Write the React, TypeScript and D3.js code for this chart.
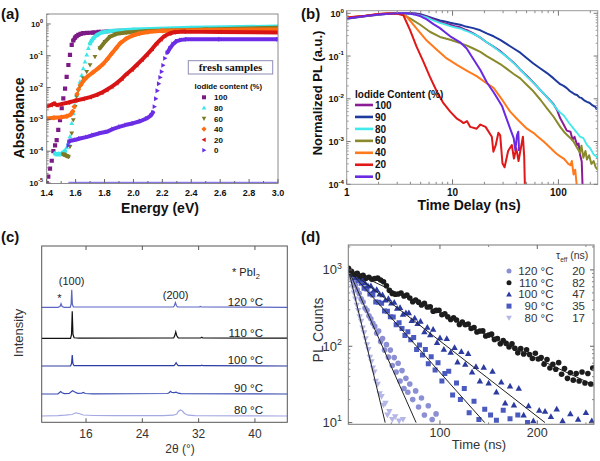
import React from "react";
import * as d3 from "d3";

const FONT = "'Liberation Sans', Arial, Helvetica, sans-serif";

// ---------------- (a) absorbance: [energy (eV), log10(absorbance)] ----------------
const absLabels = ["100", "80", "60", "40", "20", "0"];
const absColors = ["#7d1b86", "#3ee6e8", "#7c7a24", "#ff6c12", "#d81414", "#6b2de6"];
const absMarkers = ["square", "triUp", "triDown", "diamond", "triLeft", "triRight"];
const abs100 = [
  [1.400, -5.0], [1.411, -4.8], [1.423, -4.55], [1.435, -4.3], [1.446, -4.0], [1.458, -3.82],
  [1.469, -3.65], [1.480, -3.33], [1.492, -3.02], [1.504, -2.65], [1.515, -2.34], [1.527, -2.03],
  [1.538, -1.66], [1.550, -1.29], [1.561, -0.97], [1.573, -0.66], [1.584, -0.52], [1.596, -0.43],
  [1.607, -0.38], [1.619, -0.34], [1.635, -0.31], [1.653, -0.29], [1.68, -0.28], [1.72, -0.27],
  [1.76, -0.25], [1.85, -0.22], [2.0, -0.2], [2.5, -0.17], [3.0, -0.15],
];
const abs80 = [
  [1.457, -4.07], [1.470, -4.1], [1.482, -4.08], [1.493, -4.1], [1.504, -4.07], [1.515, -4.03],
  [1.527, -3.99], [1.538, -3.88], [1.550, -3.75], [1.561, -3.54], [1.573, -3.12], [1.584, -2.81],
  [1.596, -2.55], [1.607, -2.23], [1.619, -2.03], [1.630, -1.82], [1.642, -1.61], [1.653, -1.4],
  [1.665, -1.19], [1.677, -0.97], [1.688, -0.76], [1.700, -0.61], [1.711, -0.52], [1.722, -0.45],
  [1.745, -0.35], [1.78, -0.27], [1.838, -0.22], [2.0, -0.17], [2.4, -0.12], [3.0, -0.08],
];
const abs60 = [
  [1.515, -4.1], [1.527, -4.12], [1.538, -4.15], [1.550, -4.17], [1.561, -3.86], [1.573, -3.44],
  [1.584, -3.02], [1.596, -2.6], [1.607, -2.28], [1.619, -2.1], [1.630, -1.97], [1.653, -1.71],
  [1.677, -1.5], [1.700, -1.29], [1.734, -1.03], [1.768, -0.76], [1.803, -0.56], [1.838, -0.4],
  [1.884, -0.31], [1.953, -0.27], [2.1, -0.22], [2.5, -0.17], [3.0, -0.12],
];
const abs40 = [
  [1.40, -2.97], [1.45, -2.95], [1.50, -2.93], [1.54, -2.9], [1.565, -2.85], [1.58, -2.75],
  [1.59, -2.6], [1.60, -2.4], [1.61, -2.2], [1.62, -2.05], [1.635, -1.92], [1.655, -1.78],
  [1.68, -1.66], [1.72, -1.52], [1.76, -1.38], [1.79, -1.26], [1.82, -1.1], [1.85, -0.93],
  [1.88, -0.76], [1.91, -0.6], [1.95, -0.46], [1.99, -0.37], [2.04, -0.3], [2.1, -0.25],
  [2.2, -0.21], [2.5, -0.19], [3.0, -0.17],
];
const abs20 = [
  [1.40, -2.58], [1.43, -2.55], [1.45, -2.5], [1.47, -2.55], [1.50, -2.52], [1.55, -2.47],
  [1.60, -2.41], [1.65, -2.36], [1.70, -2.3], [1.745, -2.23], [1.78, -2.16], [1.815, -2.07],
  [1.85, -1.97], [1.884, -1.86], [1.92, -1.72], [1.953, -1.57], [1.99, -1.43], [2.022, -1.29],
  [2.06, -1.12], [2.092, -0.97], [2.13, -0.78], [2.161, -0.61], [2.19, -0.48], [2.215, -0.38],
  [2.25, -0.3], [2.28, -0.26], [2.35, -0.24], [2.6, -0.25], [3.0, -0.27],
];
const abs0 = [
  [1.55, -3.82], [1.556, -3.7], [1.565, -3.67], [1.6, -3.64], [1.63, -3.6], [1.68, -3.55],
  [1.722, -3.49], [1.77, -3.43], [1.815, -3.39], [1.86, -3.3], [1.907, -3.23], [1.95, -3.17],
  [2.0, -3.12], [2.05, -3.05], [2.092, -2.97], [2.12, -2.88], [2.135, -2.78], [2.145, -2.6],
  [2.155, -2.35], [2.165, -2.1], [2.175, -1.88], [2.185, -1.68], [2.195, -1.5], [2.205, -1.3],
  [2.218, -1.08], [2.235, -0.9], [2.253, -0.76], [2.275, -0.63], [2.299, -0.54], [2.33, -0.5],
  [2.368, -0.48], [2.6, -0.48], [3.0, -0.48],
];
const abs0ClippedRange = [1.55, 3.0];
const absSeries = [abs100, abs80, abs60, abs40, abs20, abs0];
const energyTicks = [1.4, 1.6, 1.8, 2.0, 2.2, 2.4, 2.6, 2.8, 3.0];
const energyTickLabels = ["1.4", "1.6", "1.8", "2.0", "2.2", "2.4", "2.6", "2.8", "3.0"];
const energyMinorTicks = [1.5, 1.7, 1.9, 2.1, 2.3, 2.5, 2.7, 2.9];
const absDecades = [0, -1, -2, -3, -4, -5];

// ---------------- (b) TRPL: [time (ns), normalized PL] ----------------
const plLabels = ["100", "90", "80", "60", "40", "20", "0"];
const plColors = ["#8a1d96", "#1f3a9e", "#3fe9ec", "#8a8a2c", "#ff7a1c", "#e01818", "#6a2ae2"];
const pl100 = [
  [1, 0.78], [1.5, 0.87], [2, 0.95], [2.5, 0.99], [3, 1.0], [3.5, 1.0], [4, 0.99], [4.5, 0.97],
  [5, 0.92], [5.7, 0.83], [6.6, 0.72], [7.6, 0.63], [8.5, 0.58], [9.5, 0.54], [10.5, 0.5],
  [11.8, 0.47], [13, 0.42], [14.1, 0.39], [15.7, 0.34], [17, 0.3], [18.3, 0.27], [21, 0.21],
  [24, 0.17], [28.2, 0.13], [32, 0.1], [37.8, 0.07], [43, 0.05], [50.4, 0.034], [58, 0.024],
  [67.6, 0.016], [78, 0.011], [90, 0.0075], [97, 0.0055], [104, 0.0035], [112, 0.0025],
  [120, 0.0018], [130, 0.0017], [136, 0.0011], [142, 0.0013], [150, 0.00083], [155, 0.0009],
  [160, 0.0005], [166, 0.00034], [170, 0.00006],
];
const pl90 = [
  [1, 0.75], [1.5, 0.85], [2, 0.93], [2.5, 0.98], [3, 1.0], [4, 1.0], [4.5, 0.99], [5, 0.95],
  [5.7, 0.86], [6.6, 0.76], [7.6, 0.68], [8.5, 0.64], [9.5, 0.6], [10.5, 0.57], [11.8, 0.54],
  [13, 0.5], [15.7, 0.45], [18.3, 0.4], [21, 0.34], [24.4, 0.29], [28.2, 0.24], [32.6, 0.19],
  [37.8, 0.15], [43.6, 0.12], [50.4, 0.089], [58, 0.067], [67.6, 0.051], [78, 0.04], [90, 0.03],
  [104, 0.022], [112, 0.02], [120, 0.0178], [128, 0.0152], [135, 0.014], [142, 0.0128],
  [150, 0.0123], [158, 0.0108], [165, 0.0105], [175, 0.0092], [186, 0.0085], [193, 0.0082],
  [200, 0.0078], [208, 0.0071], [215, 0.0068], [222, 0.0066], [228, 0.0058], [235, 0.006],
];
const pl80 = [
  [1, 0.78], [1.5, 0.87], [2, 0.95], [2.5, 0.99], [3, 1.0], [3.5, 0.99], [4, 0.97], [4.5, 0.93],
  [5, 0.88], [5.7, 0.8], [6.6, 0.68], [7.6, 0.6], [8.5, 0.55], [9.5, 0.5], [10.5, 0.47],
  [11.8, 0.44], [13, 0.4], [14.1, 0.37], [15.7, 0.33], [17, 0.3], [18.3, 0.27], [21, 0.21],
  [24, 0.17], [28.2, 0.125], [32, 0.1], [37.8, 0.068], [43, 0.05], [50.4, 0.033], [58, 0.024],
  [67.6, 0.016], [78, 0.011], [90, 0.0072], [100, 0.0052], [112, 0.0041], [125, 0.0028],
  [139, 0.002], [150, 0.0016], [160, 0.0013], [172, 0.0012], [185, 0.00085], [200, 0.00069],
  [215, 0.0005], [225, 0.00046], [235, 0.00041],
];
const pl60 = [
  [1, 0.78], [1.5, 0.87], [2, 0.95], [2.5, 0.99], [3, 1.0], [3.3, 0.98], [3.96, 0.76],
  [4.95, 0.54], [6.1, 0.37], [7.6, 0.28], [9.5, 0.24], [11.8, 0.2], [13.7, 0.175],
  [15.7, 0.15], [18.3, 0.125], [21, 0.1], [24.4, 0.08], [28.2, 0.065], [32.6, 0.05],
  [37.8, 0.038], [43.6, 0.03], [50.4, 0.021], [58, 0.015], [67.6, 0.0095], [78, 0.006],
  [90, 0.0038], [104, 0.0022], [115, 0.0016], [130, 0.0012], [139, 0.001], [150, 0.00072],
  [160, 0.00055], [165, 0.0008], [172, 0.00042], [180, 0.0006], [186, 0.00038], [195, 0.00048],
  [205, 0.0003], [215, 0.00035], [225, 0.00025], [235, 0.00022],
];
const pl40 = [
  [1, 0.8], [1.5, 0.88], [2, 0.96], [2.5, 1.0], [3.2, 0.97], [3.7, 0.83], [4.6, 0.43],
  [5.7, 0.23], [7.1, 0.14], [8.8, 0.088], [11, 0.062], [13.7, 0.045], [16.9, 0.034],
  [20, 0.025], [24.4, 0.018], [29, 0.01], [35, 0.005], [42, 0.0031], [50.4, 0.002],
  [58, 0.0016], [64, 0.0013], [72.5, 0.001], [80, 0.0008], [90, 0.0006], [96, 0.00052],
  [104, 0.00045], [112, 0.0004], [118, 0.00035], [124, 0.0003], [130, 0.00028], [134, 0.00035],
  [139, 0.00017], [144, 0.00022], [150, 0.00008],
];
const pl20 = [
  [1, 0.8], [1.5, 0.88], [2, 0.96], [2.5, 0.99], [3, 0.97], [3.43, 0.9], [3.96, 0.41],
  [4.57, 0.166], [5.3, 0.074], [6.1, 0.033], [7.1, 0.0148], [8.2, 0.0079], [9.5, 0.005],
  [10.9, 0.0035], [12, 0.003], [12.7, 0.0027], [13.7, 0.003], [14.7, 0.0022], [16.9, 0.002],
  [18.3, 0.0025], [20.5, 0.0022], [23.5, 0.0013], [24.3, 0.00058], [25.5, 0.0008],
  [27.1, 0.0016], [28.2, 0.0014], [29.6, 0.00031], [31, 0.00025], [33.5, 0.0006],
  [36.3, 0.00083], [38, 0.0004], [40, 0.0007], [42, 0.00035], [46.2, 0.0013], [47.5, 0.00045],
  [48.5, 0.00005],
];
const pl0 = [
  [1, 0.76], [1.5, 0.86], [2, 0.94], [2.5, 0.98], [3, 1.0], [3.5, 1.0], [4, 0.98], [4.5, 0.92],
  [5, 0.85], [5.7, 0.72], [6.6, 0.56], [7.6, 0.45], [8.5, 0.36], [9.5, 0.29], [10.5, 0.25],
  [11.8, 0.21], [13.6, 0.15], [15.7, 0.085], [18.3, 0.047], [21.1, 0.024], [24.5, 0.014],
  [27, 0.0095], [29.3, 0.0068], [31.4, 0.0042], [33, 0.003], [35, 0.002], [37.8, 0.0012],
  [39.2, 0.00063], [40.6, 0.0014], [41.8, 0.0017], [42.5, 0.0006],
];
const plSeries = [pl100, pl90, pl80, pl60, pl40, pl20, pl0];
const plDrawOrder = [1, 0, 2, 3, 4, 5, 6];
const timeTicksB = [1, 10, 100];
const timeTickLabelsB = ["1", "10", "100"];
const plDecades = [0, -1, -2, -3, -4];

// ---------------- (c) XRD: [2θ (deg), intensity (a.u.)] ----------------
const xrdTemps = ["120 °C", "110 °C", "100 °C", "90 °C", "80 °C"];
const xrdOffsets = [115, 84, 56.3, 28.3, 6.3];
const xrdColors = ["#5b66c4", "#111111", "#2c3da3", "#3b4db3", "#a4a9e2"];
const xrd120 = [
  [9.7, 0], [12.0, 0], [12.3, 0.8], [12.45, 3.6], [12.6, 0.8], [12.9, 0], [13.75, 0],
  [13.88, 3], [13.97, 17.5], [14.06, 3], [14.2, 0.3], [28.4, 0.3], [28.55, 1.5], [28.7, 4.7],
  [28.85, 1.5], [29.0, 0.3], [32.1, 0.3], [32.25, 0.9], [32.4, 0.3], [44.6, 0],
];
const xrd110 = [
  [9.7, 0], [13.8, 0], [13.94, 4], [14.04, 27], [14.14, 4], [14.3, 0.5], [15.0, 0.2],
  [28.45, 0.4], [28.6, 2.5], [28.75, 6.5], [28.9, 2.5], [29.1, 0.4], [32.3, 0.3], [32.45, 1],
  [32.6, 0.3], [44.6, 0.2],
];
const xrd100 = [
  [9.7, 0], [13.8, 0], [13.94, 2.5], [14.04, 11], [14.14, 2.5], [14.3, 0.3], [28.5, 0.3],
  [28.65, 1.5], [28.8, 3.3], [28.95, 1.5], [29.1, 0.3], [32.3, 0.3], [32.45, 0.8], [32.6, 0.3],
  [44.6, 0],
];
const xrd90 = [
  [9.7, 0], [12.0, 0], [12.2, 1.2], [12.4, 2.4], [12.6, 1.3], [12.9, 0.4], [13.6, 0.6],
  [13.9, 2.2], [14.1, 3.2], [14.4, 2], [14.8, 0.7], [15.4, 0.9], [15.6, 1.5], [15.9, 0.5],
  [17, 0.2], [27.6, 0.5], [27.85, 1.5], [28.0, 2.7], [28.2, 1.5], [28.5, 1.4], [28.8, 1.8],
  [29.1, 0.8], [29.5, 0.3], [44.6, 0],
];
const xrd80 = [
  [9.7, 0], [12, 0.3], [13, 0.8], [14, 1.5], [14.55, 3.2], [15.0, 2.5], [15.6, 1], [17, 0.5],
  [20, 0.3], [27, 0.3], [28.4, 0.8], [28.9, 2], [29.1, 4.5], [29.4, 6], [29.7, 5], [30.0, 2.5],
  [30.5, 0.8], [31.5, 0.3], [44.6, 0],
];
const xrdSeries = [xrd120, xrd110, xrd100, xrd90, xrd80];
const twoThetaTicks = [16, 24, 32, 40];

// ---------------- (d) PL decay: [time (ns), PL counts] ----------------
const trplTemps = ["120 °C", "110 °C", "100 °C", "90 °C", "80 °C"];
const trplTau = ["20", "82", "47", "35", "17"];
const trplColors = ["#8b8fd3", "#1c1c1c", "#2b3ba0", "#4a5abf", "#b3b6e6"];
const trplMarkers = ["circle", "circle", "triUp", "square", "triDown"];
const trpl120 = [
  [7, 933], [9, 832], [11, 708], [13, 631], [15, 550], [17, 490], [19, 417], [21, 380], [23, 316],
  [25, 295], [27, 251], [29, 229], [31, 200], [33, 182], [35, 148], [37, 158], [39, 115], [41, 126],
  [43, 89], [45, 105], [47, 72], [49, 89], [51, 56], [53, 71], [55, 46], [57, 60], [59, 35],
  [61, 48], [63, 28], [65, 38], [67, 25], [69, 32], [72, 20], [75, 26], [78, 16], [81, 21],
  [84, 12.6], [88, 16.6], [92, 11], [96, 13],
];
const trpl110 = [
  [6, 1047], [9, 960], [12, 879], [15, 904], [18, 828], [21, 851], [24, 780], [27, 802], [30, 752],
  [33, 770], [36, 780], [39, 735], [42, 700], [45, 620], [48, 540], [51, 490], [54, 481], [57, 483],
  [60, 497], [63, 455], [66, 468], [69, 429], [72, 384], [75, 404], [78, 378], [81, 347], [84, 365],
  [87, 327], [90, 328], [93, 287], [96, 295], [99, 296], [102, 259], [105, 267], [108, 244],
  [111, 224], [114, 236], [117, 221], [120, 193], [123, 208], [126, 191], [129, 196], [132, 171],
  [135, 176], [138, 154], [141, 158], [144, 159], [147, 136], [150, 140], [153, 144], [156, 123],
  [159, 126], [162, 108], [165, 119], [168, 109], [171, 98], [174, 108], [177, 94], [180, 82],
  [183, 93], [186, 79], [189, 90], [192, 78], [195, 69], [198, 81], [201, 68], [204, 71],
  [207, 58], [210, 67], [213, 52], [216, 58], [219, 50], [222, 61], [225, 43], [228, 51],
  [231, 38], [234, 45], [237, 36], [240, 44], [243, 35], [246, 46], [249, 33], [252, 44],
  [255, 32], [257, 52],
];
const trpl100 = [
  [8, 955], [11, 891], [14, 794], [17, 794], [20, 759], [23, 676], [26, 617], [29, 617], [32, 541],
  [35, 553], [38, 482], [41, 471], [44, 402], [47, 421], [50, 366], [53, 376], [56, 313], [59, 320],
  [62, 261], [65, 273], [68, 273], [71, 217], [74, 233], [77, 198], [80, 212], [84, 154], [87, 177],
  [90, 141], [93, 166], [97, 112], [100, 129], [104, 91], [107, 126], [111, 83], [115, 96],
  [118, 62], [122, 85], [126, 58], [129, 80], [133, 46], [137, 54], [141, 35], [145, 53], [150, 33],
  [154, 47], [158, 25], [163, 34], [167, 18], [172, 30], [176, 17], [181, 28], [186, 12.5],
  [191, 16.6], [196, 10.5], [202, 14.5], [208, 14], [214, 12], [220, 15], [226, 10.5], [234, 13],
  [242, 11], [250, 13.5], [256, 10.5],
];
const trpl90 = [
  [8, 933], [10, 871], [13, 794], [16, 719], [19, 667], [22, 577], [25, 561], [28, 485], [31, 471],
  [34, 380], [37, 378], [40, 366], [43, 289], [46, 288], [49, 243], [52, 242], [55, 191], [58, 203],
  [61, 171], [64, 138], [67, 155], [70, 122], [73, 130], [76, 91], [79, 104], [82, 77], [85, 91],
  [88, 59], [91, 73], [95, 49], [98, 61], [102, 35], [105, 44], [109, 47], [113, 23], [117, 33],
  [121, 20], [125, 28], [130, 13.5], [135, 19], [140, 11], [146, 15], [152, 12.6], [158, 10.7],
  [165, 14.5], [172, 11.2], [180, 12.6], [190, 10],
];
const trpl80 = [
  [7, 891], [8.5, 741], [10, 603], [11.5, 501], [13, 417], [14.5, 347], [16, 295], [17.5, 245],
  [19, 214], [20.5, 174], [22, 151], [23.5, 126], [25, 105], [26.5, 91], [28, 72], [29.5, 63],
  [31, 52], [32.5, 46], [34, 35], [36, 32], [38, 24], [40, 22], [42, 17], [44, 18], [46, 12.6],
  [48, 14], [51, 11], [54, 12], [58, 10.5], [62, 11],
];
const trplSeries = [trpl120, trpl110, trpl100, trpl90, trpl80];
const trplDrawOrder = [4, 0, 3, 2, 1];
const trplFits = [
  [[6, 1000], [75.5, 10]],
  [[6, 1000], [258, 31]],
  [[6, 1000], [208, 10]],
  [[6, 1000], [146, 10]],
  [[6, 1000], [43.7, 10]],
];
const timeTicksD = [100, 200];
const timeMinorTicksD = [50, 150, 250];
const countDecades = [1, 2, 3];

// ---------------- helpers ----------------
function markerPath(kind: string, s: number): string {
  const h = s / 2;
  switch (kind) {
    case "square":
      return `M${-h},${-h}H${h}V${h}H${-h}Z`;
    case "triUp":
      return `M0,${-h * 1.2}L${h * 1.15},${h * 0.85}L${-h * 1.15},${h * 0.85}Z`;
    case "triDown":
      return `M0,${h * 1.2}L${h * 1.15},${-h * 0.85}L${-h * 1.15},${-h * 0.85}Z`;
    case "triLeft":
      return `M${-h * 1.2},0L${h * 0.85},${-h * 1.15}L${h * 0.85},${h * 1.15}Z`;
    case "triRight":
      return `M${h * 1.2},0L${-h * 0.85},${-h * 1.15}L${-h * 0.85},${h * 1.15}Z`;
    case "diamond":
      return `M0,${-h * 1.3}L${h * 1.3},0L0,${h * 1.3}L${-h * 1.3},0Z`;
    default: {
      const r = h;
      return `M${r},0A${r},${r} 0 1,1 ${-r},0A${r},${r} 0 1,1 ${r},0Z`;
    }
  }
}

function Pow10({ x, y, exp, size, bold, anchor = "end", fill = "#111" }: any) {
  return (
    <text x={x} y={y} textAnchor={anchor} fontSize={size} fontWeight={bold ? "bold" : "normal"} fill={fill}>
      <tspan>10</tspan>
      <tspan dy={-size * 0.45} fontSize={size * 0.68}>{exp}</tspan>
    </text>
  );
}

export default function App() {
  // ---- scales ----
  const xA = d3.scaleLinear().domain([1.4, 3.0]).range([46.7, 278]);
  const yA = d3.scaleLog().domain([1e-5, 2.06]).range([183, 14]);
  const xB = d3.scaleLog().domain([1, 235]).range([346.7, 597.7]);
  const yB = d3.scaleLog().domain([1e-4, 1.15]).range([184.3, 10.7]);
  const xC = d3.scaleLinear().domain([9.7, 44.6]).range([41.7, 287.3]);
  const yC = d3.scaleLinear().domain([0, 176.3]).range([422.3, 246]);
  const xD = d3.scaleLinear().domain([5.8, 258.3]).range([348.3, 594]);
  const yD = d3.scaleLog().domain([9.5, 2120]).range([424.3, 245]);

  const [a0, a1] = xA.range();
  const [aB, aT] = yA.range();
  const [b0, b1] = xB.range();
  const [bB, bT] = yB.range();
  const [c0, c1] = xC.range();
  const [cB, cT] = yC.range();
  const [d0, d1] = xD.range();
  const [dB, dT] = yD.range();

  // ---- panel (a) paths ----
  const absPaths = absSeries.map((s) => {
    const pts = s.map(([e, lg]) => [xA(e), yA(Math.pow(10, lg))]);
    let p = "";
    for (let i = 1; i < pts.length; i++) {
      const dx = pts[i][0] - pts[i - 1][0];
      const dy = pts[i][1] - pts[i - 1][1];
      if (Math.abs(dy) <= Math.abs(dx) * 1.4 + 1) {
        p += `M${pts[i - 1][0]},${pts[i - 1][1]}L${pts[i][0]},${pts[i][1]}`;
      }
    }
    return { pts, p };
  });

  const minorLog = (scale: any, lo: number, hi: number) =>
    scale.ticks().filter((v: number) => {
      const m = v / Math.pow(10, Math.floor(Math.log10(v) + 1e-9));
      return Math.abs(m - 1) > 1e-6 && v >= lo && v <= hi;
    });

  const lineB = d3
    .line<number[]>()
    .x((d) => xB(d[0]))
    .y((d) => yB(Math.max(d[1], 3e-5)));
  const lineC = (s: number[][], off: number) =>
    d3
      .line<number[]>()
      .x((d) => xC(d[0]))
      .y((d) => yC(d[1] + off))(s) as string;
  const lineD = d3
    .line<number[]>()
    .x((d) => xD(d[0]))
    .y((d) => yD(d[1]));

  const bMinorX = [2, 3, 4, 5, 6, 7, 8, 9, 20, 30, 40, 50, 60, 70, 80, 90, 200];

  return (
    <svg
      width={600}
      height={461}
      viewBox="0 0 600 461"
      style={{ position: "absolute", left: 0, top: 0, background: "#fff" }}
      fontFamily={FONT}
    >
      <defs>
        <clipPath id="clipA">
          <rect x={a0} y={aT} width={a1 - a0} height={aB - aT + 1} />
        </clipPath>
        <clipPath id="clipB">
          <rect x={b0} y={bT} width={b1 - b0} height={bB - bT} />
        </clipPath>
        <clipPath id="clipD">
          <rect x={d0} y={dT} width={d1 - d0} height={dB - dT} />
        </clipPath>
      </defs>
      <rect x={0} y={0} width={600} height={461} fill="#fff" />

      {/* ================= (a) ================= */}
      <text x={1} y={19} fontSize={15} fontWeight="bold" fill="#111">(a)</text>
      <g clipPath="url(#clipA)">
        <line
          x1={xA(abs0ClippedRange[0])}
          x2={xA(abs0ClippedRange[1])}
          y1={yA(1e-5) - 0.5}
          y2={yA(1e-5) - 0.5}
          stroke="#8a78e8"
          strokeWidth={1.5}
        />
        {absPaths.map((s, i) => (
          <g key={i}>
            <path d={s.p} stroke={absColors[i]} strokeWidth={4} fill="none" strokeLinecap="round" />
            {s.pts.map((p, j) => (
              <path key={j} d={markerPath(absMarkers[i], 4.2)} transform={`translate(${p[0]},${p[1]})`} fill={absColors[i]} />
            ))}
          </g>
        ))}
      </g>
      <rect x={a0} y={aT} width={a1 - a0} height={aB - aT + 0.5} fill="none" stroke="#8a8a8a" strokeWidth={1} />
      {energyTicks.map((v, i) => (
        <g key={i}>
          <line x1={xA(v)} x2={xA(v)} y1={aB} y2={aB - 4} stroke="#666" />
          <text x={xA(v)} y={196} textAnchor="middle" fontSize={9} fontWeight="bold" fill="#111">
            {energyTickLabels[i]}
          </text>
        </g>
      ))}
      {energyMinorTicks.map((v, i) => (
        <line key={i} x1={xA(v)} x2={xA(v)} y1={aB} y2={aB - 2} stroke="#666" />
      ))}
      {absDecades.map((e) => (
        <g key={e}>
          <line x1={a0} x2={a0 + 4} y1={yA(Math.pow(10, e))} y2={yA(Math.pow(10, e))} stroke="#666" />
          <Pow10 x={43} y={yA(Math.pow(10, e)) + 3} exp={String(e)} size={8} bold />
        </g>
      ))}
      {minorLog(yA, 1e-5, 2).map((v: number, i: number) => (
        <line key={i} x1={a0} x2={a0 + 2} y1={yA(v)} y2={yA(v)} stroke="#888" />
      ))}
      <text x={160} y={213} textAnchor="middle" fontSize={14} fontWeight="bold" fill="#111">
        Energy (eV)
      </text>
      <text transform="translate(24,118) rotate(-90)" textAnchor="middle" fontSize={14} fontWeight="bold" fill="#111">
        Absorbance
      </text>
      {/* legend (a) */}
      <rect x={188.3} y={60.7} width={84.4} height={13.3} fill="#fff" stroke="#8c8cb4" strokeWidth={1} />
      <text x={230.5} y={71} textAnchor="middle" fontSize={11} fontWeight="bold" fontFamily="'Liberation Serif', 'DejaVu Serif', serif" fill="#111">
        fresh samples
      </text>
      <text x={194.5} y={89} fontSize={7.8} fontWeight="bold" fill="#111">Iodide content (%)</text>
      {absLabels.map((l, i) => {
        const yy = 97.3 + i * 10.6;
        return (
          <g key={l}>
            <path d={markerPath(absMarkers[i], 4)} transform={`translate(204,${yy})`} fill={absColors[i]} />
            <text x={214} y={yy + 3} fontSize={8} fontWeight="bold" fill="#111">{l}</text>
          </g>
        );
      })}

      {/* ================= (b) ================= */}
      <text x={301} y={19} fontSize={15} fontWeight="bold" fill="#111">(b)</text>
      <g clipPath="url(#clipB)">
        {plDrawOrder.map((i) => (
          <path
            key={i}
            d={lineB(plSeries[i]) as string}
            stroke={plColors[i]}
            strokeWidth={i === 2 ? 1.8 : 2}
            fill="none"
            strokeLinejoin="round"
          />
        ))}
      </g>
      <rect x={b0} y={bT} width={b1 - b0} height={bB - bT} fill="none" stroke="#9a9a9a" strokeWidth={1} />
      {timeTicksB.map((v, i) => (
        <g key={i}>
          <line x1={xB(v)} x2={xB(v)} y1={bB} y2={bB - 5} stroke="#777" />
          <line x1={xB(v)} x2={xB(v)} y1={bT} y2={bT + 5} stroke="#777" />
          <text x={xB(v)} y={196} textAnchor="middle" fontSize={10} fontWeight="bold" fill="#111">
            {timeTickLabelsB[i]}
          </text>
        </g>
      ))}
      {bMinorX.map((v, i) => (
        <g key={i}>
          <line x1={xB(v)} x2={xB(v)} y1={bB} y2={bB - 2.5} stroke="#888" />
          <line x1={xB(v)} x2={xB(v)} y1={bT} y2={bT + 2.5} stroke="#888" />
        </g>
      ))}
      {plDecades.map((e) => (
        <g key={e}>
          <line x1={b0} x2={b0 + 4} y1={yB(Math.pow(10, e))} y2={yB(Math.pow(10, e))} stroke="#777" />
          <line x1={b1} x2={b1 - 4} y1={yB(Math.pow(10, e))} y2={yB(Math.pow(10, e))} stroke="#777" />
          <Pow10 x={344} y={yB(Math.pow(10, e)) + 3.5} exp={String(e)} size={9} bold />
        </g>
      ))}
      {minorLog(yB, 1e-4, 1.1).map((v: number, i: number) => (
        <g key={i}>
          <line x1={b0} x2={b0 + 2} y1={yB(v)} y2={yB(v)} stroke="#999" />
          <line x1={b1} x2={b1 - 2} y1={yB(v)} y2={yB(v)} stroke="#999" />
        </g>
      ))}
      <text x={469} y={210} textAnchor="middle" fontSize={14} fontWeight="bold" fill="#111">
        Time Delay (ns)
      </text>
      <text transform="translate(322,93) rotate(-90)" textAnchor="middle" fontSize={13} fontWeight="bold" fill="#111">
        Normalized PL (a.u.)
      </text>
      <text x={355} y={98} fontSize={10} fontWeight="bold" fill="#111">Iodide Content (%)</text>
      {plLabels.map((l, i) => {
        const yy = 105 + i * 11.95;
        return (
          <g key={l}>
            <line x1={355} x2={373} y1={yy} y2={yy} stroke={plColors[i]} strokeWidth={2.6} />
            <text x={375} y={yy + 3.6} fontSize={10} fontWeight="bold" fill="#111">{l}</text>
          </g>
        );
      })}

      {/* ================= (c) ================= */}
      <text x={1} y={242} fontSize={15} fontWeight="bold" fill="#111">(c)</text>
      {xrdSeries.map((s, i) => (
        <path key={i} d={lineC(s, xrdOffsets[i])} stroke={xrdColors[i]} strokeWidth={1.2} fill="none" />
      ))}
      <rect x={c0} y={cT} width={c1 - c0} height={cB - cT} fill="none" stroke="#555" strokeWidth={1} />
      {twoThetaTicks.map((v) => (
        <g key={v}>
          <line x1={xC(v)} x2={xC(v)} y1={cB} y2={cB - 4} stroke="#555" />
          <line x1={xC(v)} x2={xC(v)} y1={cT} y2={cT + 4} stroke="#555" />
          <text x={xC(v)} y={437.5} textAnchor="middle" fontSize={12} fill="#333">{v}</text>
        </g>
      ))}
      {xrdTemps.map((t, i) => (
        <text key={t} x={263} y={yC(xrdOffsets[i]) - 1.8} textAnchor="end" fontSize={11.5} fill="#222">
          {t}
        </text>
      ))}
      <text x={71.7} y={285} textAnchor="middle" fontSize={11} fill="#222">(100)</text>
      <text x={175.7} y={298.5} textAnchor="middle" fontSize={11} fill="#222">(200)</text>
      <text x={59.3} y={302} textAnchor="middle" fontSize={11} fill="#222">*</text>
      <text x={232} y={276} fontSize={11} fill="#222">
        <tspan>* PbI</tspan>
        <tspan dy={3} fontSize={7.5}>2</tspan>
      </text>
      <text x={180} y={453} textAnchor="middle" fontSize={12} fill="#333">2θ (°)</text>
      <text transform="translate(23,333) rotate(-90)" textAnchor="middle" fontSize={13} fill="#333">
        Intensity
      </text>

      {/* ================= (d) ================= */}
      <text x={301} y={242} fontSize={15} fontWeight="bold" fill="#111">(d)</text>
      <g clipPath="url(#clipD)">
        {trplDrawOrder.map((i) => (
          <g key={i}>
            {trplSeries[i].map((p, j) => (
              <path
                key={j}
                d={markerPath(trplMarkers[i], trplMarkers[i] === "square" ? 5 : 5.6)}
                transform={`translate(${xD(p[0])},${yD(p[1])})`}
                fill={trplColors[i]}
              />
            ))}
          </g>
        ))}
        {trplFits.map((f, i) => (
          <path key={i} d={lineD(f) as string} stroke="#222" strokeWidth={1} fill="none" />
        ))}
      </g>
      <rect x={d0} y={dT} width={d1 - d0} height={dB - dT} fill="none" stroke="#777" strokeWidth={1} />
      {timeTicksD.map((v) => (
        <g key={v}>
          <line x1={xD(v)} x2={xD(v)} y1={dB} y2={dB - 4} stroke="#666" />
          <line x1={xD(v)} x2={xD(v)} y1={dT} y2={dT + 4} stroke="#666" />
          <text x={xD(v)} y={437} textAnchor="middle" fontSize={12.5} fill="#333">{v}</text>
        </g>
      ))}
      {timeMinorTicksD.map((v) => (
        <g key={v}>
          <line x1={xD(v)} x2={xD(v)} y1={dB} y2={dB - 2} stroke="#888" />
          <line x1={xD(v)} x2={xD(v)} y1={dT} y2={dT + 2} stroke="#888" />
        </g>
      ))}
      {countDecades.map((e) => (
        <g key={e}>
          <line x1={d0} x2={d0 + 4} y1={yD(Math.pow(10, e))} y2={yD(Math.pow(10, e))} stroke="#666" />
          <line x1={d1} x2={d1 - 4} y1={yD(Math.pow(10, e))} y2={yD(Math.pow(10, e))} stroke="#666" />
          <Pow10 x={342} y={yD(Math.pow(10, e)) + 4.5} exp={String(e)} size={13} fill="#333" />
        </g>
      ))}
      {minorLog(yD, 10, 2100).map((v: number, i: number) => (
        <g key={i}>
          <line x1={d0} x2={d0 + 2} y1={yD(v)} y2={yD(v)} stroke="#888" />
          <line x1={d1} x2={d1 - 2} y1={yD(v)} y2={yD(v)} stroke="#888" />
        </g>
      ))}
      <text x={479} y={449} textAnchor="middle" fontSize={13} fill="#333">Time (ns)</text>
      <text transform="translate(323,330) rotate(-90)" textAnchor="middle" fontSize={14} fill="#333">
        PL Counts
      </text>
      <text x={556} y={259} fontSize={10.5} fill="#333">
        <tspan>τ</tspan>
        <tspan dy={2.5} fontSize={6.5}>eff</tspan>
        <tspan dy={-2.5}> (ns)</tspan>
      </text>
      {trplTemps.map((t, i) => {
        const yy = 271 + i * 11.7;
        return (
          <g key={t}>
            <path d={markerPath(trplMarkers[i], 5)} transform={`translate(509,${yy})`} fill={trplColors[i]} />
            <text x={553.5} y={yy + 4} textAnchor="end" fontSize={11.5} fill="#333">{t}</text>
            <text x={585} y={yy + 4} textAnchor="end" fontSize={11.5} fill="#333">{trplTau[i]}</text>
          </g>
        );
      })}
    </svg>
  );
}
